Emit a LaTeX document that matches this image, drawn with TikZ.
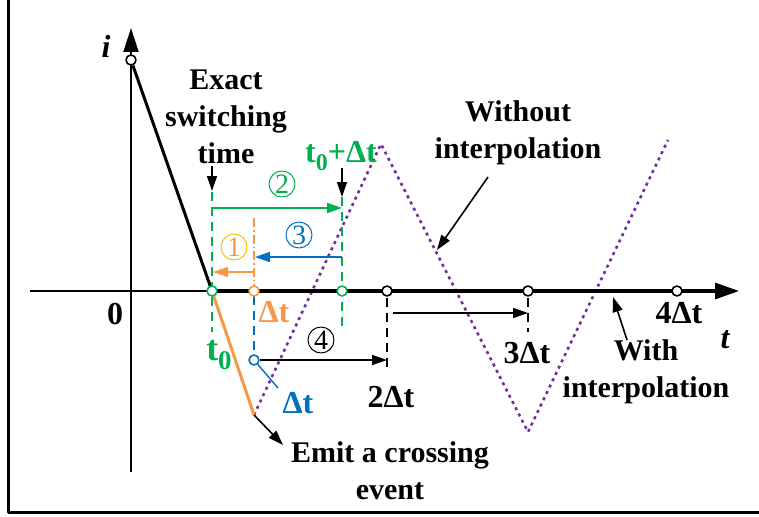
\documentclass[tikz,border=0pt]{standalone}
\usepackage{fontspec}
\setmainfont{Liberation Serif}
\usepackage{xcolor}
\usetikzlibrary{arrows.meta}

\definecolor{swgreen}{RGB}{0,176,80}
\definecolor{sworange}{RGB}{246,152,72}
\definecolor{swblue}{RGB}{0,112,192}
\definecolor{swgold}{RGB}{255,192,0}
\definecolor{swviolet}{RGB}{112,48,160}
\definecolor{vigblue}{RGB}{190,222,234}
\pgfdeclareradialshading{vignette}{\pgfpoint{0bp}{0bp}}{color(0bp)=(white); color(42bp)=(white); color(71bp)=(vigblue)}

\tikzset{
  lbl/.style={font=\fontsize{30}{37}\selectfont\bfseries, align=center, inner sep=0pt},
  dlbl/.style={font=\fontsize{32}{37}\selectfont\bfseries, inner sep=0pt},
  num/.style={circle, draw, line width=1pt, minimum size=26pt, inner sep=0pt,
    font=\fontsize{28}{28}\selectfont},
  tick/.style={circle, draw, fill=white, line width=1.6pt, minimum size=10pt, inner sep=0pt},
  guide/.style={line width=1.4pt, dash pattern=on 9pt off 6pt},
}

\begin{document}
\begin{tikzpicture}[x=1pt, y=-1pt, >={Triangle[length=15pt,width=10pt]}, line join=round]
    \useasboundingbox (0,0) rectangle (759,516);

    % --- Background and frame ---
    \shade[shading=vignette] (9,0) rectangle (759,511);
    \draw[line width=3pt] (8,0) -- (8,512) -- (759,512);

    % --- Without interpolation (dotted triangle wave) ---
    \coordinate (emit) at (254,415);
    \draw[swviolet, line width=2.6pt, dash pattern=on 3pt off 4pt]
        (emit) -- (381,144) -- (528,432) -- (668,140);

    % --- Axes ---
    \coordinate (ibot) at (131,472);
    \coordinate (itop) at (131,28);
    \coordinate (tleft) at (30,291);
    \coordinate (tend) at (739,291);
    \draw[line width=2pt, -{Triangle[length=24pt,width=15pt]}] (ibot) -- (itop);
    \node[tick] (istart) at (131,60) {};

    % --- Current: black before t0, orange after ---
    \coordinate (t0) at (212,291);
    \draw[line width=1.4pt] (tleft) -- (t0);
    \draw[line width=3.2pt, -{Triangle[length=24pt,width=16pt]}] (t0) -- (tend);
    \draw[line width=3pt] (istart) -- (t0);
    \draw[sworange, line width=3pt] (t0) -- (emit);

    % --- Guide lines ---
    \draw[swgreen, guide] (212,192) -- (212,332);
    \draw[swgreen, guide] (342,197) -- (342,330);
    \draw[sworange, line width=1.4pt, dash pattern=on 9pt off 3pt on 1.5pt off 3pt] (254,218) -- (254,291);
    \draw[swblue, guide] (254,296) -- (254,355);
    \draw[guide] (387,298) -- (387,372);
    \draw[guide] (528,298) -- (528,332);

    % --- Points on t axis ---
    \node[tick, draw=swgreen] (c0) at (212,291) {};
    \node[tick, draw=sworange] (c1) at (254,291) {};
    \node[tick, draw=swgreen] (c2) at (342,291) {};
    \node[tick] (c3) at (387,291) {};
    \node[tick] (c4) at (528,291) {};
    \node[tick] (c5) at (677,291) {};

    % --- Steps 1 to 4 ---
    \coordinate (a2s) at (212,208);
    \coordinate (a2e) at (342,208);
    \draw[->, swgreen, line width=1.6pt] (a2s) -- (a2e);
    \node[num, swgreen] (n2) at (282,184) {2};

    \coordinate (a3s) at (342,257);
    \coordinate (a3e) at (255,257);
    \draw[->, swblue, line width=1.6pt] (a3s) -- (a3e);
    \node[num, swblue] (n3) at (299,235) {3};

    \coordinate (a1s) at (254,272);
    \coordinate (a1e) at (213,272);
    \draw[->, sworange, line width=1.6pt] (a1s) -- (a1e);
    \node[num, draw=swgold, text=sworange] (n1) at (234,247) {1};

    \node[tick, draw=swblue] (bdot) at (254,360) {};
    \coordinate (bend) at (278,388);
    \draw[swblue, line width=1.4pt] (bdot) -- (bend);
    \coordinate (a4e) at (387,360);
    \draw[->, line width=1.6pt] (bdot) -- (a4e);
    \node[num] (n4) at (321,340) {4};

    \coordinate (a5s) at (393,313);
    \coordinate (a5e) at (528,313);
    \draw[->, line width=1.6pt] (a5s) -- (a5e);

    % --- Axis labels ---
    \node[font=\fontsize{32}{32}\selectfont\bfseries\itshape] (ilbl) at (106,46) {i};
    \node[font=\fontsize{32}{32}\selectfont\bfseries\itshape] (tlbl) at (725,340) {t};
    \node[dlbl] (zero) at (115,314) {0};
    \node[dlbl, swgreen, font=\fontsize{36}{37}\selectfont\bfseries] (t0lbl) at (219,355)
        {t\raisebox{-0.25em}{\fontsize{27}{27}\selectfont 0}};
    \node[dlbl, sworange] (dtor) at (274,312) {Δt};
    \node[dlbl, swblue] (dtbl) at (298,403) {Δt};
    \node[dlbl] (d2) at (391,397) {2Δt};
    \node[dlbl] (d3) at (527,353) {3Δt};
    \node[dlbl] (d4) at (679,313) {4Δt};

    % --- Annotations ---
    \node[lbl] (exact) at (226,117) {Exact\\switching\\time};
    \coordinate (ex1) at (212,166);
    \coordinate (ex2) at (212,191);
    \draw[->, line width=1.6pt] (ex1) -- (ex2);

    \node[dlbl, swgreen] (tdt) at (341,156) {t\raisebox{-0.25em}{\fontsize{24}{24}\selectfont 0}+Δt};
    \coordinate (td1) at (342,168);
    \coordinate (td2) at (342,197);
    \draw[->, line width=1.6pt] (td1) -- (td2);

    \node[lbl] (wo) at (518,133) {Without\\interpolation};
    \coordinate (wo1) at (488,177);
    \coordinate (wo2) at (437,250);
    \draw[->, line width=1.6pt] (wo1) -- (wo2);

    \node[lbl] (wi) at (646,372) {With\\interpolation};
    \coordinate (wi1) at (627,340);
    \coordinate (wi2) at (613,297);
    \draw[->, line width=1.6pt] (wi1) -- (wi2);

    \node[lbl] (emitlbl) at (390,471) {Emit a crossing\\event};
    \coordinate (em2) at (283,445);
    \draw[->, line width=1.6pt] (emit) -- (em2);

\end{tikzpicture}
\end{document}
